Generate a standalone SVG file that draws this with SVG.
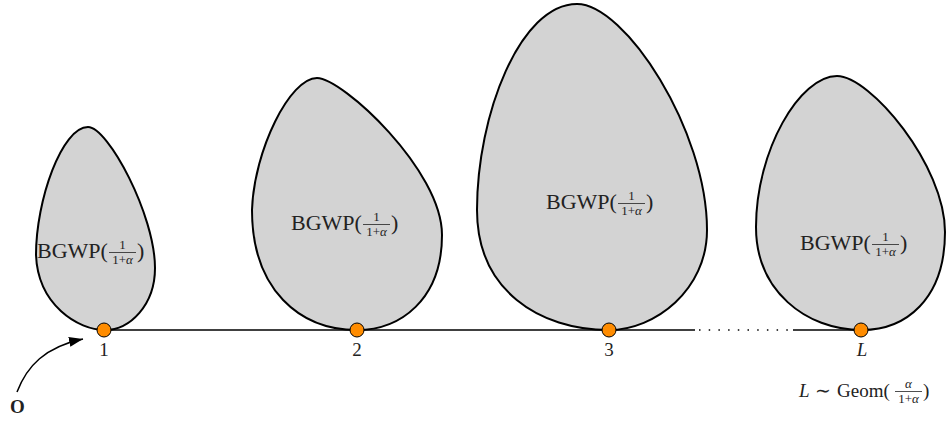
<svg xmlns="http://www.w3.org/2000/svg" width="950" height="422" viewBox="0 0 950 422">
<defs>
<style>
.blob{fill:#d3d3d3;stroke:#000;stroke-width:2}
.node{fill:#ff8c00;stroke:#000;stroke-width:1}
.t{font-family:"Liberation Serif","Times New Roman",serif;fill:#222}
.big{font-size:22px}
.sm{font-size:13px}
.lbl{font-size:19px}
.bar{stroke:#222;stroke-width:0.8}
.edge{stroke:#000;stroke-width:1.5;fill:none}
</style>
<marker id="ah" markerUnits="userSpaceOnUse" markerWidth="16" markerHeight="12" refX="14" refY="5" orient="auto">
<path d="M0,0 L14,5 L0,10 z" fill="#000"/>
</marker>
</defs>
<g id="blob1">
<path class="blob" d="M105,330 C78,330 38,305 36,255 C36,200 62,127 88,127 C108,127 155,215 155,268 C155,305 130,330 105,330 Z"/>
<g class="t" transform="translate(37,258)">
<text class="big" x="0" y="0">BGWP(</text>
<line class="bar" x1="72" y1="-5.5" x2="99" y2="-5.5"/>
<text class="sm" x="85.5" y="-9.5" text-anchor="middle">1</text>
<text class="sm" x="85.5" y="5.5" text-anchor="middle">1+<tspan font-style="italic">α</tspan></text>
<text class="big" x="100" y="0">)</text>
</g>
</g>
<g id="blob2">
<path class="blob" d="M357,330 C300,330 252,290 252,210 C254,150 290,78 317,78 C342,78 442,170 442,235 C442,300 400,330 357,330 Z"/>
<g class="t" transform="translate(291,230)">
<text class="big" x="0" y="0">BGWP(</text>
<line class="bar" x1="72" y1="-5.5" x2="99" y2="-5.5"/>
<text class="sm" x="85.5" y="-9.5" text-anchor="middle">1</text>
<text class="sm" x="85.5" y="5.5" text-anchor="middle">1+<tspan font-style="italic">α</tspan></text>
<text class="big" x="100" y="0">)</text>
</g>
</g>
<g id="blob3">
<path class="blob" d="M609,330 C539,330 477,290 477,210 C477,115 520,4 577,4 C625,4 707,130 707,230 C707,290 655,330 609,330 Z"/>
<g class="t" transform="translate(546,209)">
<text class="big" x="0" y="0">BGWP(</text>
<line class="bar" x1="72" y1="-5.5" x2="99" y2="-5.5"/>
<text class="sm" x="85.5" y="-9.5" text-anchor="middle">1</text>
<text class="sm" x="85.5" y="5.5" text-anchor="middle">1+<tspan font-style="italic">α</tspan></text>
<text class="big" x="100" y="0">)</text>
</g>
</g>
<g id="blob4">
<path class="blob" d="M862,330 C805,330 756,290 756,227 C756,150 800,76 837,76 C870,76 945,165 945,232 C945,300 905,330 862,330 Z"/>
<g class="t" transform="translate(800,250)">
<text class="big" x="0" y="0">BGWP(</text>
<line class="bar" x1="72" y1="-5.5" x2="99" y2="-5.5"/>
<text class="sm" x="85.5" y="-9.5" text-anchor="middle">1</text>
<text class="sm" x="85.5" y="5.5" text-anchor="middle">1+<tspan font-style="italic">α</tspan></text>
<text class="big" x="100" y="0">)</text>
</g>
</g>
<g id="connectors">
<path class="edge" d="M104,330 H695"/>
<path class="edge" d="M699,330 H792" stroke-dasharray="1.5 8.2"/>
<path class="edge" d="M793,330 H861"/>
<path class="edge" d="M17,392 C27,366 45,347 83,339" marker-end="url(#ah)"/>
</g>
<g id="node1"><circle class="node" cx="104" cy="330" r="7"/><text class="t lbl" x="104" y="356" text-anchor="middle">1</text></g>
<g id="node2"><circle class="node" cx="357" cy="330" r="7"/><text class="t lbl" x="357" y="356" text-anchor="middle">2</text></g>
<g id="node3"><circle class="node" cx="609" cy="330" r="7"/><text class="t lbl" x="609" y="356" text-anchor="middle">3</text></g>
<g id="nodeL"><circle class="node" cx="861" cy="330" r="7"/><text class="t lbl" x="862" y="356" text-anchor="middle" font-style="italic">L</text></g>
<g id="origin"><text class="t" x="17.5" y="413" text-anchor="middle" font-size="19" font-weight="bold">O</text></g>
<g id="geom" class="t">
<text x="799" y="397" font-size="19" font-style="italic">L</text>
<text x="822.5" y="397" font-size="19" text-anchor="middle">∼</text>
<text x="837" y="397" font-size="19">Geom(</text>
<line class="bar" x1="895" y1="391.5" x2="922" y2="391.5"/>
<text x="908.5" y="388" font-size="13" text-anchor="middle" font-style="italic">α</text>
<text x="908.5" y="403" font-size="13" text-anchor="middle">1+<tspan font-style="italic">α</tspan></text>
<text x="923" y="397" font-size="19">)</text>
</g>
</svg>
